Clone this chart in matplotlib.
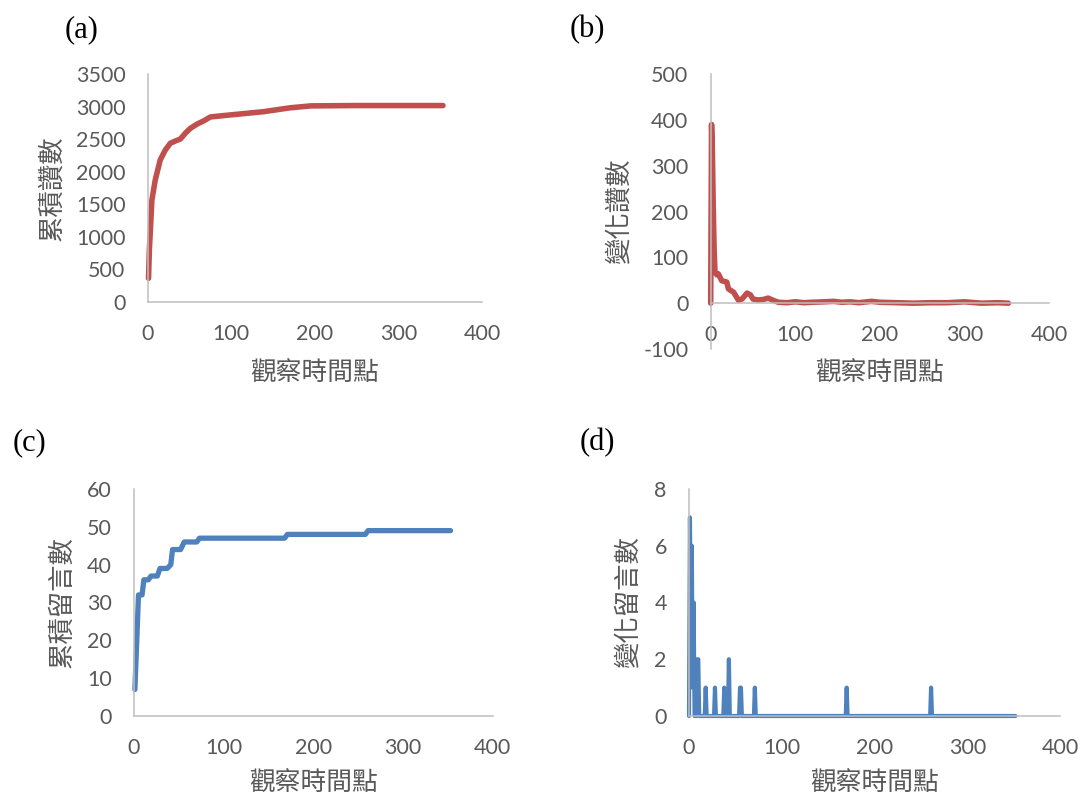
import matplotlib
matplotlib.use("Agg")
import matplotlib.pyplot as plt

# 資料
a_x = [1, 2, 3, 5, 9, 15, 21, 27, 33, 39, 45, 51, 59, 67, 75, 98, 138, 170, 195, 250, 300, 353]
a_y = [360, 800, 1050, 1560, 1870, 2180, 2330, 2435, 2470, 2500, 2590, 2665, 2730, 2780, 2840, 2870, 2920, 2980, 3010, 3015, 3015, 3015]

b_x = [0, 1, 2, 3, 4, 5, 7, 9, 13, 19, 21, 27, 33, 37, 43, 47, 50, 56, 62, 68, 74,
       80, 90, 100, 110, 120, 135, 145, 155, 165, 175, 190, 200, 220, 240, 260, 280, 300, 320, 340, 352]
b_y = [0, 390, 330, 210, 120, 70, 62, 64, 49, 46, 31, 24, 6, 9, 22, 18, 9, 7, 8, 11, 6,
       2, 1, 3, 1, 2, 3, 4, 2, 3, 1, 4, 2, 1, 0, 1, 1, 3, 0, 1, 0]

c_x = [1, 5, 9, 11, 16, 19, 26, 29, 37, 41, 43, 52, 56, 70, 73, 168, 171, 258, 261, 353]
c_y = [7, 32, 32, 36, 36, 37, 37, 39, 39, 40, 44, 44, 46, 46, 47, 47, 48, 48, 49, 49]

d_x = [0, 1, 2, 3, 4, 5, 6, 8, 9, 10, 11, 17, 18, 19, 27, 28, 29, 37, 38, 39, 42, 43, 44,
       54, 55, 56, 57, 70, 71, 72, 169, 170, 171, 260, 261, 262, 352]
d_y = [0, 7, 3, 6, 1, 4, 0, 0, 2, 2, 0, 0, 1, 0, 0, 1, 0, 0, 1, 0, 0, 2, 0,
       0, 1, 1, 0, 0, 1, 0, 0, 1, 0, 0, 1, 0, 0]

x_label = "觀察時間點"
y_labels = ["累積讚數", "變化讚數", "累積留言數", "變化留言數"]
panel_names = ["(a)", "(b)", "(c)", "(d)"]

RED = "#C0504D"
BLUE = "#4F81BD"
GRAY_TEXT = "#595959"
GRAY_AXIS = "#BFBFBF"
CJK = ["Noto Sans CJK TC", "DejaVu Sans"]
NUM_FONT = "Lato"

plt.rcParams["axes.unicode_minus"] = False

W, H = 1081, 798
fig = plt.figure(figsize=(W / 100, H / 100), dpi=100)


# 依像素位置建立座標軸
def make_axes(left, right, top, bottom):
    return fig.add_axes([left / W, 1 - bottom / H, (right - left) / W, (bottom - top) / H])


# 共用的外觀設定 (Excel 風格)
def style_axes(ax, ylabel, ylab_x, xlab_y):
    for side in ["top", "right"]:
        ax.spines[side].set_visible(False)
    for side in ["left", "bottom"]:
        ax.spines[side].set_color(GRAY_AXIS)
        ax.spines[side].set_linewidth(1.1)
    ax.tick_params(length=0, pad=16, labelsize=15.5, labelcolor=GRAY_TEXT)
    for lab in ax.get_xticklabels() + ax.get_yticklabels():
        lab.set_fontfamily(NUM_FONT)
    ax.set_xlim(0, 400)
    ax.set_xticks([0, 100, 200, 300, 400])
    ax.set_xlabel(x_label, fontsize=18.5, color=GRAY_TEXT, family=CJK)
    ax.set_ylabel(ylabel, fontsize=19, color=GRAY_TEXT, family=CJK)
    # xlabel 座標為文字上緣, ylabel 座標為文字右緣
    ax.xaxis.set_label_coords(0.5, xlab_y)
    ax.yaxis.set_label_coords(ylab_x, 0.5)


line_kw = dict(solid_capstyle="round", solid_joinstyle="round", clip_on=False)

# (a) 累積讚數
ax_a = make_axes(147.7, 482.3, 74, 301.7)
ax_a.plot(a_x, a_y, color=RED, lw=4, **line_kw)
ax_a.set_ylim(0, 3500)
ax_a.set_yticks(range(0, 3501, 500))
style_axes(ax_a, y_labels[0], -0.247, -0.256)

# (b) 變化讚數
ax_b = make_axes(710.7, 1049, 74, 349)
ax_b.plot(b_x, b_y, color=RED, lw=4, **line_kw)
ax_b.set_ylim(-100, 500)
ax_b.set_yticks(range(-100, 501, 100))
ax_b.spines["bottom"].set_position(("data", 0))
style_axes(ax_b, y_labels[1], -0.23, -0.04)

# (c) 累積留言數
ax_c = make_axes(134, 492.7, 489, 716)
ax_c.plot(c_x, c_y, color=BLUE, lw=3.8, **line_kw)
ax_c.set_ylim(0, 60)
ax_c.set_yticks(range(0, 61, 10))
style_axes(ax_c, y_labels[2], -0.164, -0.238)

# (d) 變化留言數
ax_d = make_axes(689, 1060, 489, 716)
ax_d.plot(d_x, d_y, color=BLUE, lw=3, **line_kw)
ax_d.set_ylim(0, 8)
ax_d.set_yticks(range(0, 9, 2))
style_axes(ax_d, y_labels[3], -0.127, -0.238)

# 子圖標號
for name, (px, py) in zip(panel_names, [(82, 30), (587, 30), (29, 443), (597, 443)]):
    fig.text(px / W, 1 - py / H, name, ha="center", va="center",
             fontsize=22, family="Liberation Serif", color="black")

fig.savefig("out.png", dpi=100)
